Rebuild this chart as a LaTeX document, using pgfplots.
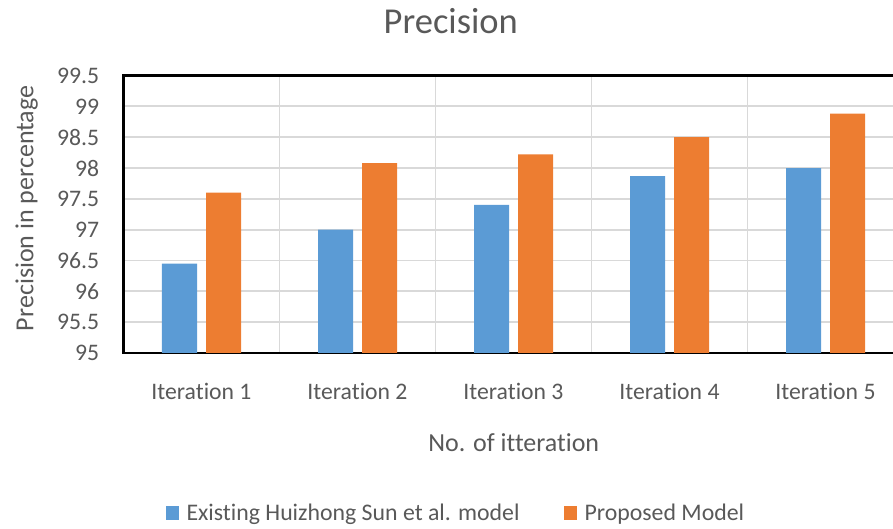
\documentclass[border=0pt]{standalone}
\usepackage{pgfplots}
\pgfplotsset{compat=1.18}
\usepackage{pgfplotstable}
\usepackage{fontspec}
\setmainfont{Carlito}[Ligatures={NoCommon}]

\definecolor{barblue}{HTML}{5B9BD5}
\definecolor{barorange}{HTML}{ED7D31}
\definecolor{txtgray}{HTML}{595959}
\definecolor{gridgray}{HTML}{D9D9D9}

% Precision per iteration
\pgfplotstableread{
idx existing proposed
0   96.45    97.60
1   97.00    98.08
2   97.40    98.22
3   97.87    98.50
4   98.00    98.88
}\precisiondata

\begin{document}
\begin{tikzpicture}
\useasboundingbox (-123.5pt,-176pt) rectangle (769.5pt,353pt);
\clip (-123.5pt,-176pt) rectangle (769.5pt,353pt);
\begin{axis}[
  at={(0pt,0pt)}, anchor=south west,
  scale only axis, width=780pt, height=277.5pt,
  xmin=-0.5, xmax=4.5, ymin=95, ymax=99.5,
  ybar=9pt, bar width=35pt,
  xtick={0,1,2,3,4},
  xticklabels={Iteration 1,Iteration 2,Iteration 3,Iteration 4,Iteration 5},
  minor xtick={0.5,1.5,2.5,3.5},
  xminorgrids, ymajorgrids, xmajorgrids=false,
  ytick={95,95.5,96,96.5,97,97.5,98,98.5,99,99.5},
  major tick length=0pt, minor tick length=0pt,
  axis line style={black, line width=2.5pt},
  grid style={gridgray, line width=1.8pt},
  minor grid style={gridgray, line width=1.8pt},
  /pgf/number format/assume math mode=true,
  xticklabel style={font=\fontsize{23.7}{28}\selectfont, text=txtgray, anchor=base, yshift=-46.3pt},
  yticklabel style={font=\fontsize{23.7}{28}\selectfont, text=txtgray, anchor=east, inner sep=0pt, xshift=-24.2pt},
  title={Precision},
  every axis title/.style={at={(axis description cs:0.4196,1.1521)}, anchor=base, font=\fontsize{36.5}{42}\selectfont, text=txtgray},
  xlabel={No. of itteration},
  every axis x label/.style={at={(axis description cs:0.5003,-0.3557)}, anchor=base, font=\fontsize{26}{30}\selectfont, text=txtgray},
  ylabel={Precision in percentage},
  every axis y label/.style={at={(axis description cs:-0.1156,0.5214)}, rotate=90, anchor=base, font=\fontsize{26}{30}\selectfont, text=txtgray},
  legend columns=2,
  legend style={at={(axis description cs:0.4261,-0.5766)}, anchor=center, draw=none, fill=none,
    font=\fontsize{23.8}{28}\selectfont, text=txtgray,
    /tikz/every even column/.append style={column sep=42pt}},
  legend image code/.code={\fill[#1] (0pt,-6.85pt) rectangle (13.7pt,6.85pt);\path (19pt,0pt);},
]
\addplot[fill=barblue, draw=none] table[x=idx, y=existing] {\precisiondata};
\addplot[fill=barorange, draw=none] table[x=idx, y=proposed] {\precisiondata};
\legend{Existing Huizhong Sun et al. model, Proposed Model}
\end{axis}
\end{tikzpicture}
\end{document}
